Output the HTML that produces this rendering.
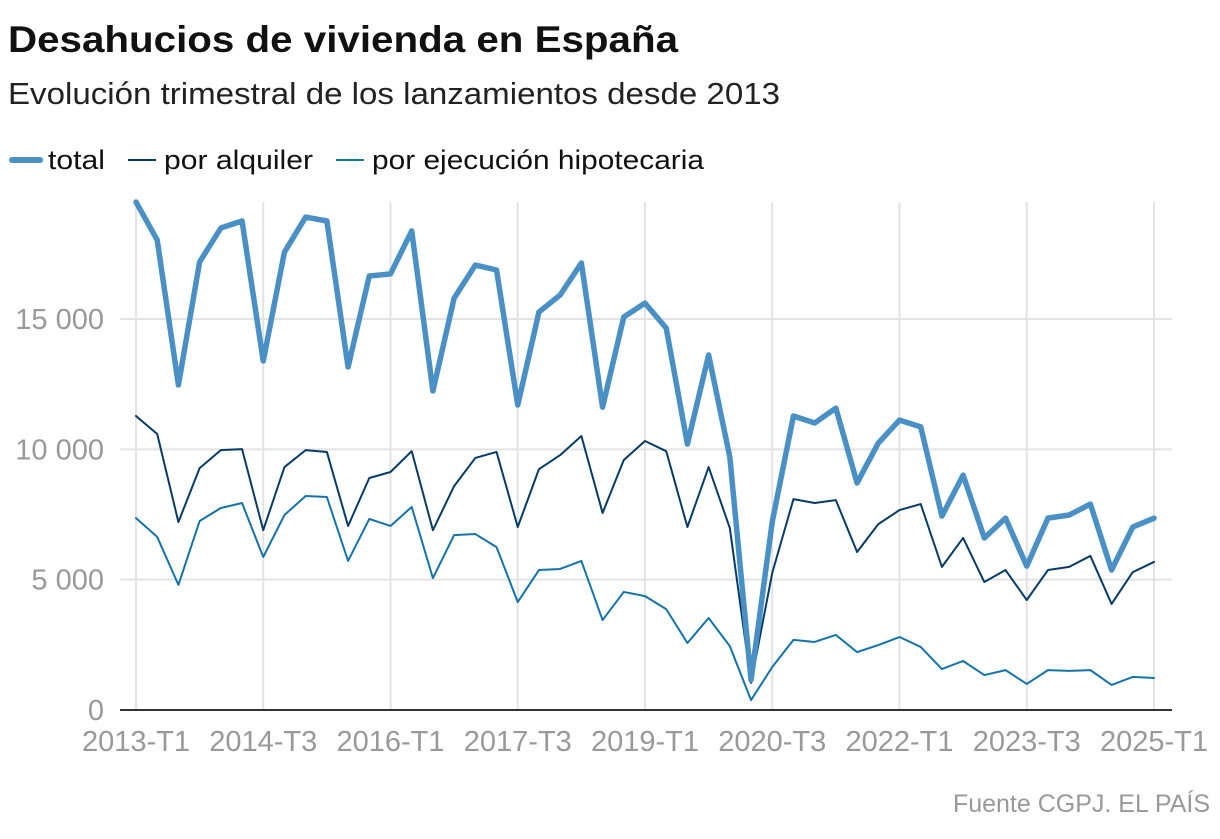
<!DOCTYPE html>
<html><head><meta charset="utf-8"><style>
body{margin:0;background:#fff;font-family:"Liberation Sans",sans-serif;}
svg text{font-family:"Liberation Sans",sans-serif;}
</style></head><body>
<svg width="1220" height="834" viewBox="0 0 1220 834">
<text x="8" y="52" font-size="37" font-weight="bold" fill="#111" textLength="670" lengthAdjust="spacingAndGlyphs">Desahucios de vivienda en España</text>
<text x="8" y="104" font-size="31" fill="#222" textLength="772" lengthAdjust="spacingAndGlyphs">Evolución trimestral de los lanzamientos desde 2013</text>
<g>
<line x1="12" y1="160" x2="40" y2="160" stroke="#4a90c4" stroke-width="6" stroke-linecap="round"/>
<text x="48" y="169" font-size="27" fill="#111" textLength="57" lengthAdjust="spacingAndGlyphs">total</text>
<line x1="128" y1="160" x2="156" y2="160" stroke="#073b66" stroke-width="2"/>
<text x="164" y="169" font-size="27" fill="#111" textLength="149" lengthAdjust="spacingAndGlyphs">por alquiler</text>
<line x1="336" y1="160" x2="364" y2="160" stroke="#1573a8" stroke-width="2"/>
<text x="372" y="169" font-size="27" fill="#111" textLength="332" lengthAdjust="spacingAndGlyphs">por ejecución hipotecaria</text>
</g>
<g id="grid"></g><g id="series"></g><g id="axes"></g>
<text x="1210" y="812" font-size="25" fill="#999" text-anchor="end">Fuente CGPJ. EL PAÍS</text>
</svg>
<script>
const total=[19490,18030,12470,17190,18490,18760,13390,17570,18910,18760,13160,16650,16730,18380,12240,15800,17070,16880,11700,15270,15920,17150,11620,15080,15610,14650,10200,13620,9700,1150,7220,11280,11010,11580,8710,10240,11120,10860,7440,9010,6600,7360,5520,7360,7480,7900,5370,7020,7360];
const alquiler=[11280,10590,7210,9280,9970,10010,6900,9320,9970,9900,7060,8900,9130,9930,6900,8590,9670,9900,7020,9240,9780,10510,7560,9590,10320,9930,7020,9320,6980,1040,5260,8090,7940,8050,6060,7130,7670,7900,5490,6600,4910,5370,4220,5370,5490,5910,4070,5290,5680];
const hipotecaria=[7360,6640,4800,7250,7750,7940,5870,7480,8210,8170,5720,7330,7060,7790,5060,6710,6750,6250,4140,5370,5410,5720,3450,4530,4370,3870,2570,3530,2450,380,1650,2690,2610,2880,2220,2490,2800,2420,1570,1880,1340,1530,1000,1530,1500,1530,960,1270,1230];
const xTickLabels=["2013-T1","2014-T3","2016-T1","2017-T3","2019-T1","2020-T3","2022-T1","2023-T3","2025-T1"];
const xTickIdx=[0,6,12,18,24,30,36,42,48];
const yTicks=[0,5000,10000,15000];
const yTickLabels=["0","5 000","10 000","15 000"];
const NS="http://www.w3.org/2000/svg";
const x0=136,x1=1154,y0=710,yPer=130.33/5000;
const X=i=>x0+(x1-x0)*i/48;
const Y=v=>y0-v*yPer;
function mk(t,a,p){const e=document.createElementNS(NS,t);for(const k in a)e.setAttribute(k,a[k]);p.appendChild(e);return e;}
const grid=document.getElementById('grid'),axes=document.getElementById('axes'),ser=document.getElementById('series');
yTicks.forEach((v,k)=>{
 if(v>0){const l=mk('line',{x1:120,x2:1172,y1:Y(v),y2:Y(v),stroke:'#e3e3e3','stroke-width':2},grid);
 
 }
 const t=mk('text',{x:104,y:Y(v)+10,'font-size':29,fill:'#999','text-anchor':'end'},axes);t.textContent=yTickLabels[k];
 
 
});
xTickIdx.forEach((i,k)=>{
 const l=mk('line',{x1:X(i),x2:X(i),y1:202,y2:y0,stroke:'#e3e3e3','stroke-width':2},grid);
 
 
 const t=mk('text',{x:X(i),y:751,'font-size':29,fill:'#999','text-anchor':'middle'},axes);t.textContent=xTickLabels[k];
 
 
});
const ax=mk('line',{x1:120,x2:1172,y1:y0,y2:y0,stroke:'#333','stroke-width':2},axes);


function line(d,c,w,name){
 const p=mk('polyline',{points:d.map((v,i)=>X(i)+','+Y(v)).join(' '),fill:'none',stroke:c,'stroke-width':w,'stroke-linejoin':'round','stroke-linecap':'round'},ser);
 
 
}
line(hipotecaria,'#1573a8',2,'line-hipotecaria');
line(alquiler,'#073b66',2,'line-alquiler');
line(total,'#4a90c4',5.5,'line-total');
</script>
</body></html>
